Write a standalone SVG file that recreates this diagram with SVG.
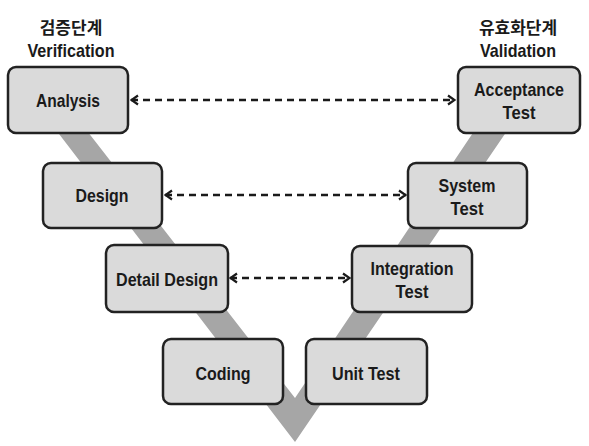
<svg xmlns="http://www.w3.org/2000/svg" width="589" height="446" viewBox="0 0 589 446">
  <style>
    .box { fill: #dadada; stroke: #222; stroke-width: 2.5; }
    .lbl { font-family: "Liberation Sans", Arial, sans-serif; font-weight: bold; font-size: 19px; fill: #1a1a1a; text-anchor: middle; }
    .ttl { font-family: "Liberation Sans", "Noto Sans CJK KR", sans-serif; font-weight: bold; font-size: 19px; fill: #1a1a1a; text-anchor: middle; }
    .kr { font-family: "Noto Sans CJK KR", sans-serif; font-weight: bold; font-size: 17px; fill: #1a1a1a; text-anchor: middle; }
    .con { stroke: #1a1a1a; stroke-width: 2.4; stroke-dasharray: 7 5; fill: none; marker-start: url(#head); marker-end: url(#head); }
  </style>
  <defs>
    <marker id="head" viewBox="0 0 12 12" refX="11" refY="6" markerWidth="12" markerHeight="12" markerUnits="userSpaceOnUse" orient="auto-start-reverse">
      <path d="M4,1.5 L10.5,6 L4,10.5" fill="none" stroke="#1a1a1a" stroke-width="2.2"/>
    </marker>
  </defs>
  <rect width="589" height="446" fill="#ffffff"/>

  <!-- V band -->
  <polygon points="33,100 63,100 295,398 495,100 528,100 295,442" fill="#a6a6a6"/>

  <g id="titles">
    <text class="kr" x="71" y="34">검증단계</text>
    <text class="ttl" x="71" y="57" textLength="87" lengthAdjust="spacingAndGlyphs">Verification</text>
    <text class="kr" x="518" y="34">유효화단계</text>
    <text class="ttl" x="518" y="57" textLength="76" lengthAdjust="spacingAndGlyphs">Validation</text>
  </g>

  <g id="connectors">
    <line class="con" x1="131" y1="100" x2="455" y2="100"/>
    <line class="con" x1="165" y1="195" x2="406" y2="195"/>
    <line class="con" x1="230" y1="278" x2="350" y2="278"/>
  </g>

  <g id="analysis">
    <rect class="box" x="8" y="67" width="120" height="66" rx="8"/>
    <text class="lbl" x="68" y="107" textLength="64" lengthAdjust="spacingAndGlyphs">Analysis</text>
  </g>
  <g id="acceptance-test">
    <rect class="box" x="458" y="67" width="122" height="66" rx="8"/>
    <text class="lbl" x="519" y="96" textLength="90" lengthAdjust="spacingAndGlyphs">Acceptance</text>
    <text class="lbl" x="519" y="119" textLength="33" lengthAdjust="spacingAndGlyphs">Test</text>
  </g>
  <g id="design">
    <rect class="box" x="43" y="163" width="119" height="65" rx="8"/>
    <text class="lbl" x="102" y="202" textLength="53" lengthAdjust="spacingAndGlyphs">Design</text>
  </g>
  <g id="system-test">
    <rect class="box" x="408" y="163" width="119" height="65" rx="8"/>
    <text class="lbl" x="467" y="192" textLength="57" lengthAdjust="spacingAndGlyphs">System</text>
    <text class="lbl" x="467" y="215" textLength="33" lengthAdjust="spacingAndGlyphs">Test</text>
  </g>
  <g id="detail-design">
    <rect class="box" x="106" y="245" width="122" height="67" rx="8"/>
    <text class="lbl" x="167" y="286" textLength="102" lengthAdjust="spacingAndGlyphs">Detail Design</text>
  </g>
  <g id="integration-test">
    <rect class="box" x="352" y="246" width="120" height="66" rx="8"/>
    <text class="lbl" x="412" y="275" textLength="83" lengthAdjust="spacingAndGlyphs">Integration</text>
    <text class="lbl" x="412" y="298" textLength="33" lengthAdjust="spacingAndGlyphs">Test</text>
  </g>
  <g id="coding">
    <rect class="box" x="163" y="339" width="120" height="65" rx="8"/>
    <text class="lbl" x="223" y="380" textLength="55" lengthAdjust="spacingAndGlyphs">Coding</text>
  </g>
  <g id="unit-test">
    <rect class="box" x="306" y="339" width="121" height="65" rx="8"/>
    <text class="lbl" x="366" y="380" textLength="68" lengthAdjust="spacingAndGlyphs">Unit Test</text>
  </g>
</svg>
